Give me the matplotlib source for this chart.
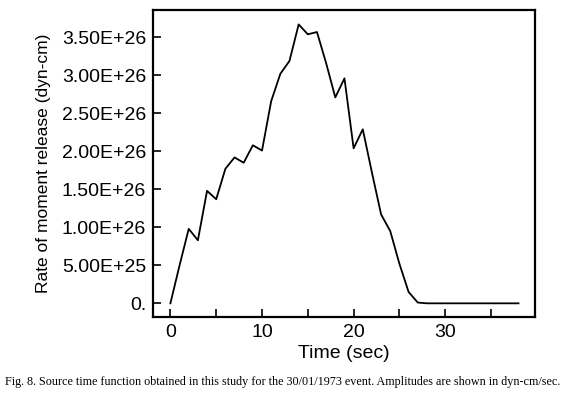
import matplotlib
matplotlib.use('Agg')
import matplotlib.pyplot as plt
from matplotlib.ticker import FuncFormatter, MultipleLocator

# source time function (time in sec, rate in 1e26 dyn-cm)
time_sec = [0, 1, 2, 3, 4, 5, 6, 7, 8, 9, 10, 11, 12, 13, 14, 15, 16, 17, 18,
            19, 20, 21, 22, 23, 24, 25, 26, 27, 28, 30, 32, 34, 36, 38]
rate_e26 = [0.0, 0.5, 0.98, 0.83, 1.48, 1.37, 1.77, 1.92, 1.85, 2.08, 2.01,
            2.66, 3.02, 3.19, 3.67, 3.54, 3.57, 3.16, 2.71, 2.96, 2.04, 2.29,
            1.72, 1.17, 0.95, 0.52, 0.15, 0.01, 0.0, 0.0, 0.0, 0.0, 0.0, 0.0]
rate = [r * 1e26 for r in rate_e26]

caption = ("Fig. 8. Source time function obtained in this study for the "
           "30/01/1973 event. Amplitudes are shown in dyn-cm/sec.")

plt.rcParams['font.family'] = ['Liberation Sans', 'DejaVu Sans']

fig = plt.figure(figsize=(5.65, 3.98), dpi=100)
ax = fig.add_axes([0.2708, 0.2035, 0.6761, 0.7714])

ax.plot(time_sec, rate, color='black', lw=1.3)

ax.set_xlim(-1.9, 39.8)
ax.set_ylim(-0.18e26, 3.86e26)

ax.xaxis.set_major_locator(MultipleLocator(10))
ax.xaxis.set_minor_locator(MultipleLocator(5))
ax.yaxis.set_major_locator(MultipleLocator(0.5e26))


def yfmt(v, pos):
    if abs(v) < 1e20:
        return '0.'
    return '%.2E' % v


ax.yaxis.set_major_formatter(FuncFormatter(yfmt))
ax.tick_params(which='both', direction='in', length=6, width=1.2,
               labelsize=14, pad=5)
ax.tick_params(axis='y', which='minor', left=False)
for s in ax.spines.values():
    s.set_linewidth(1.6)

ax.set_xlabel('Time (sec)', fontsize=14, labelpad=3)
ax.set_ylabel('Rate of moment release (dyn-cm)', fontsize=12.5, labelpad=8)

fig.text(0.5, 0.04, caption, ha='center', va='center', fontsize=8.7,
         family='Liberation Serif')

fig.savefig('out.png', dpi=100)
